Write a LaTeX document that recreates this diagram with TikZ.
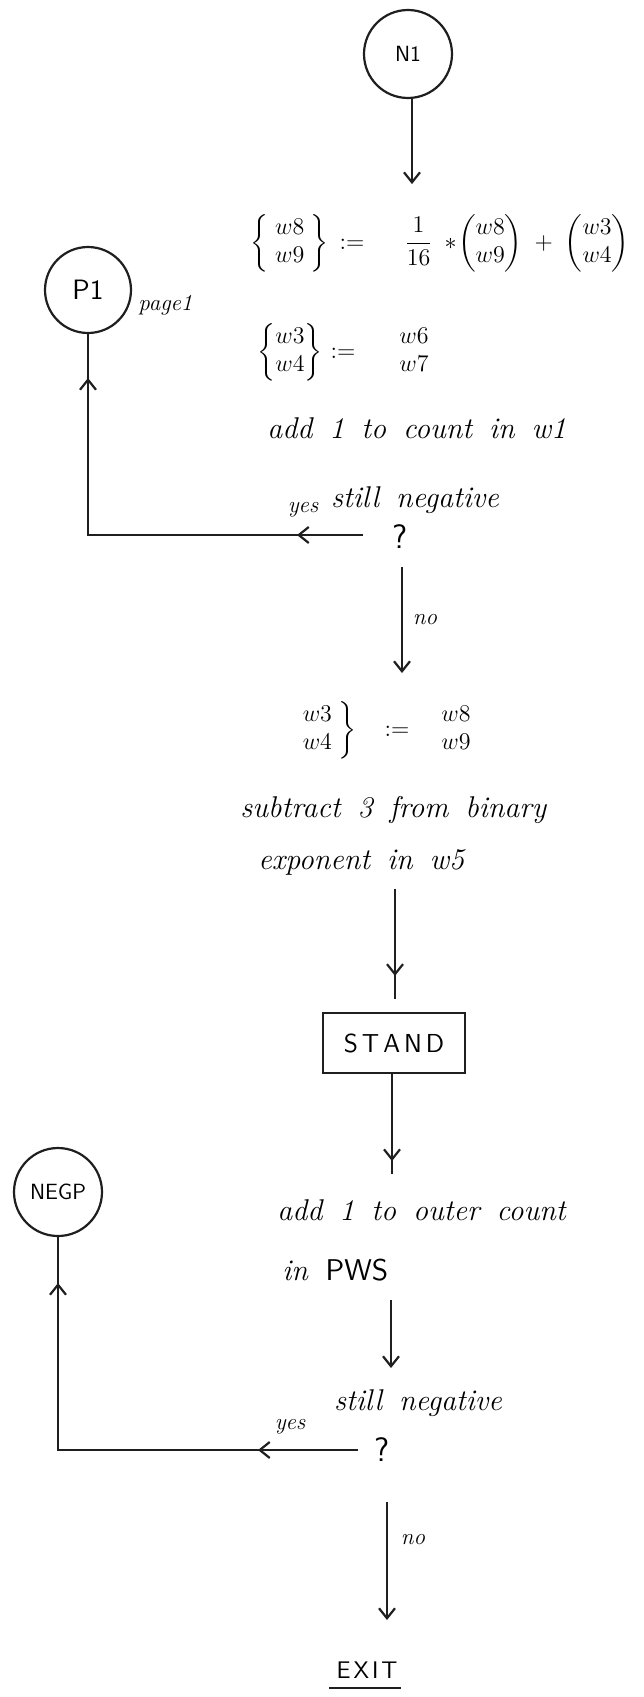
\documentclass[tikz,border=0pt]{standalone}
\usepackage{amsmath}
\usetikzlibrary{arrows.meta,decorations.markings,calc}
\newcommand\handfnt{\fontsize{15}{18}\selectfont\itshape\spaceskip 8.5pt plus 1pt\relax}
\begin{document}
\begin{tikzpicture}[x=0.5pt,y=-0.5pt,
  ln/.style={line width=1.1pt,draw=black!88},
  tip/.style={-{Straight Barb[length=5pt,width=8pt]}},
  markat/.style={postaction={decorate},decoration={markings,mark=at position #1 with {\arrow{Straight Barb[length=5pt,width=8pt]}}}},
  marktwo/.style 2 args={postaction={decorate},decoration={markings,mark=at position #1 with {\arrow{Straight Barb[length=5pt,width=8pt]}},mark=at position #2 with {\arrow{Straight Barb[length=5pt,width=8pt]}}}},
  conn/.style={draw=black!88,circle,line width=1.1pt,inner sep=0pt},
  hand/.style={font=\handfnt,inner sep=0pt},
  note/.style={font=\fontsize{11.5}{13}\selectfont\itshape,inner sep=0pt},
  eqn/.style={font=\fontsize{12}{14}\selectfont,inner sep=0pt},
  caps/.style={font=\fontsize{12}{14}\selectfont\sffamily,inner sep=0pt},
  quest/.style={font=\fontsize{17}{19}\selectfont\sffamily,inner sep=0pt},
]
\fill[white] (0,0) rectangle (643,1697);
\useasboundingbox (0,0) rectangle (643,1697);

% nodes
\node[conn,minimum size=44pt,font=\fontsize{11}{13}\selectfont\sffamily] (N1) at (408,54) {N1};
\node[eqn,anchor=west] (eq1) at (250,243) {$\left\{\;\begin{matrix} w8\\ w9\end{matrix}\;\right\}\;{:=}\hspace{20pt}\dfrac{1}{16}\;*\!\begin{pmatrix} w8\\ w9\end{pmatrix}\;+\;\begin{pmatrix} w3\\ w4\end{pmatrix}$};
\node[conn,minimum size=43pt,font=\fontsize{14}{16}\selectfont\sffamily] (P1) at (88,290) {P1};
\node[note,anchor=west] (pg) at (138,305) {page1};
\node[eqn,anchor=west] (eq2) at (257,352) {$\left\{\begin{matrix} w3\\ w4\end{matrix}\right\}\,{:=}\hspace{22pt}\begin{matrix} w6\\ w7\end{matrix}$};
\node[hand,anchor=west] (add1) at (267,428) {add 1 to count in w1};
\node[hand] (neg1) at (415,500) {still negative};
\node[note] (yes1) at (303,510) {yes};
\node[quest] (q1) at (400,537) {?};
\node[note] (no1) at (425,620) {no};
\node[eqn,anchor=west] (eq3) at (300,730) {$\left.\begin{matrix} w3\\ w4\end{matrix}\;\right\}\quad{:=}\hspace{16pt}\begin{matrix} w8\\ w9\end{matrix}$};
\node[hand,anchor=west] (sub) at (240,810) {subtract 3 from binary};
\node[hand,anchor=west] (expo) at (258,862) {exponent in w5};
\node[draw=black!88,line width=1.1pt,rectangle,minimum width=71pt,minimum height=30pt,inner sep=0pt,font=\fontsize{13}{15}\selectfont\sffamily] (stand) at (394,1043) {S\hspace{2pt}T\hspace{2pt}A\hspace{2pt}N\hspace{2pt}D};
\node[conn,minimum size=44pt,font=\fontsize{11}{13}\selectfont\sffamily] (negp) at (58,1192) {NEGP};
\node[hand,anchor=west] (add2) at (277,1210) {add 1 to outer count};
\node[hand,anchor=west] (pws) at (282,1270) {in \textup{\sffamily PWS}};
\node[hand] (neg2) at (418,1403) {still negative};
\node[note] (yes2) at (290,1427) {yes};
\node[quest] (q2) at (382,1450) {?};
\node[note] (no2) at (413,1540) {no};
\node[caps] (exit) at (367,1670) {E\hspace{1.5pt}X\hspace{1.5pt}I\hspace{1.5pt}T};
\draw[ln] ($(exit.south west)+(-7,9)$) -- ($(exit.south east)+(3,9)$);

% connectors
\draw[ln,tip] ($(N1.south)+(4,0)$) -- ($(N1.south)+(4,85)$);
\draw[ln,tip] ($(q1.center)+(2,30)$) -- ($(q1.center)+(2,136)$);
\draw[ln,marktwo={33pt}{216pt}] ($(q1.center)+(-37,-2)$) -| (P1.south);
\draw[ln,markat={-11.5pt}] ($(stand.north)+(1,-123)$) -- ($(stand.north)+(1,-13)$);
\draw[ln,markat={-6.5pt}] ($(stand.south)+(-2,0)$) -- ($(stand.south)+(-2,100)$);
\draw[ln,tip] ($(q2.center)+(9,-150)$) -- ($(q2.center)+(9,-82)$);
\draw[ln,marktwo={50pt}{233.5pt}] ($(q2.center)+(-24,0)$) -| (negp.south);
\draw[ln,tip] ($(q2.center)+(5,52)$) -- ($(q2.center)+(5,170)$);
\end{tikzpicture}
\end{document}
